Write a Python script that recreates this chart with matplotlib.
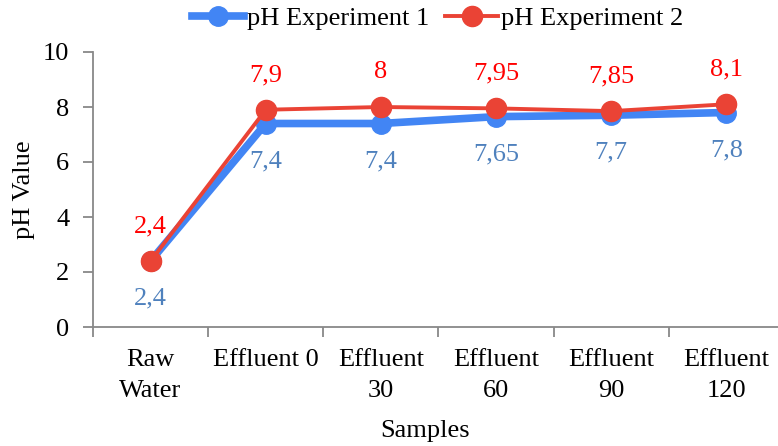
import matplotlib
matplotlib.use("Agg")
import matplotlib.pyplot as plt
from matplotlib.lines import Line2D

categories = ["Raw\nWater", "Effluent 0", "Effluent\n30", "Effluent\n60", "Effluent\n90", "Effluent\n120"]
exp1 = [2.4, 7.4, 7.4, 7.65, 7.7, 7.8]
exp2 = [2.4, 7.9, 8.0, 7.95, 7.85, 8.1]
labels1 = ["2,4", "7,4", "7,4", "7,65", "7,7", "7,8"]
labels2 = ["2,4", "7,9", "8", "7,95", "7,85", "8,1"]
yticks = [0, 2, 4, 6, 8, 10]

plt.rcParams['font.family'] = ['Liberation Serif', 'DejaVu Serif']

W, H = 778, 446
fig = plt.figure(figsize=(W / 100, H / 100), dpi=100)
left, right, top, bottom = 93, 784, 52, 327
ax = fig.add_axes([left / W, 1 - bottom / H, (right - left) / W, (bottom - top) / H])

blue = "#4285F4"
red = "#EA4335"
x = list(range(len(categories)))
ax.plot(x, exp1, color=blue, lw=5.5, marker="o", ms=14, solid_capstyle="round", zorder=3, label="pH Experiment 1")
ax.plot(x, exp2, color=red, lw=2.8, marker="o", ms=14.5, zorder=4, label="pH Experiment 2")

for xi, v, t in zip(x, exp1, labels1):
    ax.annotate(t, (xi, v), xytext=(0, -27), textcoords="offset points", ha="center", va="center",
                color="#4F81BD", fontsize=19)
for xi, v, t in zip(x, exp2, labels2):
    ax.annotate(t, (xi, v), xytext=(0, 25), textcoords="offset points", ha="center", va="center",
                color="#FF0000", fontsize=19)

ax.set_xlim(-0.5, len(categories) - 0.5)
ax.set_ylim(0, 10)
ax.set_yticks(yticks)
ax.set_yticklabels([str(v) for v in yticks], fontsize=19)
ax.set_xticks(x)
ax.set_xticklabels(categories, fontsize=19, linespacing=1.5)
ax.set_xticks([i - 0.5 for i in range(len(categories) + 1)], minor=True)
ax.tick_params(axis="x", which="major", length=0, pad=16)
ax.tick_params(axis="x", which="minor", length=7, color="#888888", width=1.3)
ax.tick_params(axis="y", length=7, color="#888888", width=1.3, pad=10)

for s in ["top", "right"]:
    ax.spines[s].set_visible(False)
for s in ["left", "bottom"]:
    ax.spines[s].set_color("#888888")
    ax.spines[s].set_linewidth(1.3)

ax.set_ylabel("pH Value", fontsize=19)
ax.yaxis.set_label_coords((35 - left) / (right - left), 0.5)
fig.text(425 / W, 1 - 431 / H, "Samples", fontsize=19, ha="center", va="center")

handles = [
    Line2D([], [], color=blue, lw=5.5, marker="o", ms=14),
    Line2D([], [], color=red, lw=2.8, marker="o", ms=14.5),
]
fig.legend(handles, ["pH Experiment 1", "pH Experiment 2"], loc="center", bbox_to_anchor=(0.562, 1 - 18 / H),
           ncol=2, frameon=False, fontsize=19, handlelength=2.0, handletextpad=0.1, columnspacing=0.6,
           borderaxespad=0)

fig.savefig("out.png", dpi=100)
